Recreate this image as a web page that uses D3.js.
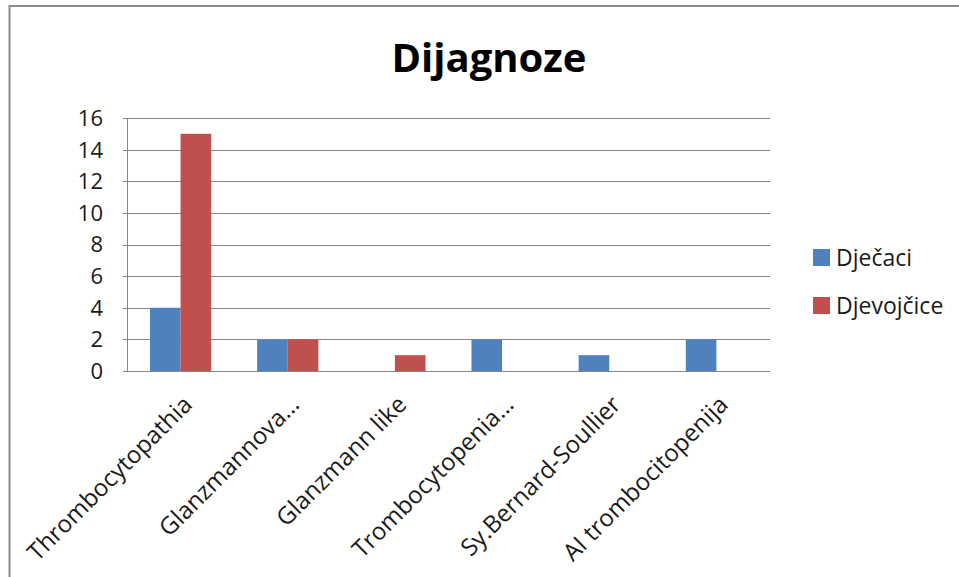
<!DOCTYPE html>
<html>
<head>
<meta charset="utf-8">
<script src="https://cdn.jsdelivr.net/npm/d3@7"></script>
<style>
  body { margin: 0; background: #fff; }
  svg { display: block; font-family: "Open Sans", sans-serif; }
</style>
</head>
<body>
<svg id="svg" width="959" height="577"></svg>
<script>
// DATA
const categories = ["Thrombocytopathia", "Glanzmannova…", "Glanzmann like",
  "Trombocytopenia…", "Sy.Bernard-Soullier", "AI trombocitopenija"];
const seriesNames = ["Dječaci", "Djevojčice"];
const djecaci = [4, 2, 0, 2, 1, 2];
const djevojcice = [15, 2, 1, 0, 0, 0];
const yTicks = [0, 2, 4, 6, 8, 10, 12, 14, 16];
const colors = ["#4F81BD", "#C0504D"];

// VARIABLES
const plot = { left: 127, right: 770, top: 118, bottom: 371 };
const gray = "#868686";

const data = categories.map((c, i) => ({ cat: c, values: [djecaci[i], djevojcice[i]] }));

const svg = d3.select("#svg");

// outer chart border (runs off the page right and bottom)
svg.append("rect")
  .attr("x", 9.5).attr("y", 6)
  .attr("width", 1000).attr("height", 700)
  .attr("fill", "none")
  .attr("stroke", "#8c8c8c")
  .attr("stroke-width", 2);

const x = d3.scaleBand()
  .domain(categories)
  .range([plot.left, plot.right]);

// Excel gap width 150% -> group takes 2/3.5 of the band
const x1 = d3.scaleBand()
  .domain([0, 1])
  .range([0, x.bandwidth() * 2 / 3.5]);

const y = d3.scaleLinear()
  .domain([0, 16])
  .range([plot.bottom, plot.top]);

// gridlines
svg.append("g")
  .selectAll("line")
  .data(yTicks)
  .enter()
  .append("line")
  .attr("x1", plot.left - 4)
  .attr("x2", plot.right)
  .attr("y1", d => Math.round(y(d)) + 0.5)
  .attr("y2", d => Math.round(y(d)) + 0.5)
  .attr("stroke", gray);

// y axis line
svg.append("line")
  .attr("x1", plot.left + 0.5).attr("x2", plot.left + 0.5)
  .attr("y1", plot.top).attr("y2", plot.bottom)
  .attr("stroke", gray);

// y tick labels
svg.append("g")
  .attr("text-anchor", "end")
  .attr("font-size", 22)
  .selectAll("text")
  .data(yTicks)
  .enter()
  .append("text")
  .attr("x", 103)
  .attr("y", d => y(d))
  .attr("dy", "0.36em")
  .attr("fill", "#1a1a1a")
  .text(d => d);

// BARS
const groups = svg.append("g")
  .selectAll("g")
  .data(data)
  .enter()
  .append("g")
  .attr("transform", d => `translate(${x(d.cat) + (x.bandwidth() - x1.range()[1]) / 2},0)`);

groups.selectAll("rect")
  .data(d => d.values.map((v, i) => ({ v, i })))
  .enter()
  .filter(d => d.v > 0)
  .append("rect")
  .attr("x", d => x1(d.i))
  .attr("width", x1.bandwidth())
  .attr("y", d => y(d.v))
  .attr("height", d => y(0) - y(d.v))
  .attr("fill", d => colors[d.i]);

// x axis line over bars
svg.append("line")
  .attr("x1", plot.left).attr("x2", plot.right)
  .attr("y1", plot.bottom + 0.5).attr("y2", plot.bottom + 0.5)
  .attr("stroke", gray);

// x labels, rotated
svg.append("g")
  .attr("text-anchor", "end")
  .attr("font-size", 24)
  .selectAll("text")
  .data(categories)
  .enter()
  .append("text")
  .attr("transform", d => `translate(${x(d) + x.bandwidth() / 2 + 1},394) rotate(-45)`)
  .attr("dy", "0.71em")
  .attr("fill", "#1a1a1a")
  .text(d => d);

// TITLE
svg.append("text")
  .attr("x", 489)
  .attr("y", 72)
  .attr("text-anchor", "middle")
  .attr("font-size", 40)
  .attr("font-weight", "bold")
  .text("Dijagnoze");

// LEGEND
const legend = svg.append("g")
  .selectAll("g")
  .data(seriesNames)
  .enter()
  .append("g")
  .attr("transform", (d, i) => `translate(813,${249 + i * 48})`);

legend.append("rect")
  .attr("width", 17)
  .attr("height", 17)
  .attr("fill", (d, i) => colors[i]);

legend.append("text")
  .attr("x", 23)
  .attr("y", 16.5)
  .attr("font-size", 23)
  .attr("fill", "#1a1a1a")
  .text(d => d);
</script>
</body>
</html>
